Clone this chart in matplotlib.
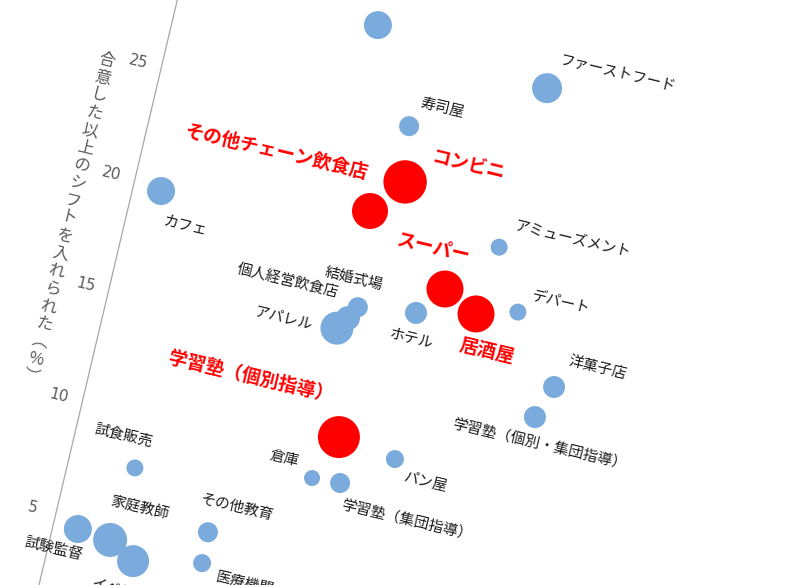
import matplotlib
matplotlib.use("Agg")
import matplotlib.pyplot as plt
import matplotlib.transforms as mtrans

plt.rcParams['font.family'] = ['Noto Sans CJK JP', 'DejaVu Sans']

# ---------------- data ----------------
names = ["", "ファーストフード", "寿司屋", "コンビニ", "その他チェーン飲食店", "カフェ",
         "アミューズメント", "スーパー", "居酒屋", "デパート", "ホテル", "結婚式場",
         "個人経営飲食店", "アパレル", "学習塾（個別指導）", "倉庫", "学習塾（集団指導）",
         "パン屋", "洋菓子店", "学習塾（個別・集団指導）", "試食販売", "試験監督",
         "家庭教師", "イベント", "その他教育", "医療機関"]
x_vals = [8.78, 16.60, 11.12, 11.51, 10.31, 1.23, 16.16, 14.28, 15.85, 17.61, 13.29,
          10.76, 10.45, 10.08, 11.26, 10.53, 11.77, 13.86, 19.90, 19.39, 2.90, 1.09,
          2.57, 3.76, 6.65, 6.71]
y_vals = [28.98, 28.00, 25.00, 22.59, 21.00, 19.75, 20.76, 18.44, 17.69, 18.19, 17.13,
          16.79, 16.23, 15.69, 11.08, 9.07, 9.14, 10.71, 15.37, 13.90, 7.72, 4.55,
          4.41, 3.74, 5.72, 4.35]
bubble = [196, 225, 100, 470, 324, 196, 72, 342, 342, 72, 121, 100, 144, 272, 441,
          64, 100, 81, 121, 121, 72, 196, 289, 256, 100, 81]
highlight = ["コンビニ", "その他チェーン飲食店", "スーパー", "居酒屋", "学習塾（個別指導）"]
y_ticks = [5, 10, 15, 20, 25]
y_label = "合意した以上のシフトを入れられた︵%︶"

# label offsets (px, in the chart's own tilted frame)
label_off = [(0, 30), (66, 31), (28, 25), (58, 31), (-105, 36), (31, -28),
             (69, 24), (-21, 38), (19, -34), (40, 19), (2, -26), (-11, 27),
             (-67, 21), (-55, -3), (-99, 38), (-32, 12), (73, -22),
             (34, -15), (38, 29), (11, -26), (-18, 29), (-19, -25),
             (21, 37), (-5, -31), (22, 31), (46, -11)]

# ---------------- layout ----------------
THETA = 13.3          # chart is tilted clockwise
PX = 22.9             # pixels per data unit
W, H = 810, 585

fig = plt.figure(figsize=(W / 100, H / 100), dpi=100)
ax = fig.add_axes([0, 0, 1, 1])
ax.set_xlim(0, W / PX)
ax.set_ylim(0, H / PX)
ax.axis('off')

rot = mtrans.Affine2D().rotate_deg(-THETA).translate(29.6, -39.7)
T = ax.transData + rot


def off(dx, dy):
    return ax.transData + mtrans.Affine2D().translate(dx, dy) + rot


# axis line
ax.plot([0, 0], [0, 33], transform=T, color='#a6a6a6', lw=0.9, clip_on=False)

# tick labels
for t in y_ticks:
    ax.text(0, t, str(t), transform=off(-24, 0), rotation=-THETA,
            rotation_mode='anchor', ha='center', va='center',
            fontsize=11, color='#595959', family=['DejaVu Sans'])

# y label (vertical writing)
ax.text(0, 17.65, "\n".join(y_label), transform=off(-55, 0), rotation=-THETA,
        rotation_mode='anchor', ha='center', va='center', multialignment='center',
        fontsize=11.8, color='#595959', linespacing=1.08)

# bubbles
colors = ['#ff0000' if n in highlight else '#7aabdc' for n in names]
sizes = [b * 2.0736 for b in bubble]
order_blue = [i for i, n in enumerate(names) if n not in highlight]
order_red = [i for i, n in enumerate(names) if n in highlight]
for idx, z in ((order_blue, 2), (order_red, 3)):
    ax.scatter([x_vals[i] for i in idx], [y_vals[i] for i in idx],
               s=[sizes[i] for i in idx], c=[colors[i] for i in idx],
               linewidths=0, transform=T, clip_on=False, zorder=z)

# labels
for n, xv, yv, (dx, dy) in zip(names, x_vals, y_vals, label_off):
    if not n:
        continue
    red = n in highlight
    ax.text(xv, yv, n, transform=off(dx, dy), rotation=-THETA,
            rotation_mode='anchor', ha='center', va='center',
            fontsize=13.5 if red else 10.7,
            fontweight='bold' if red else 'normal',
            color='#ff0000' if red else '#1a1a1a', zorder=4)

fig.savefig('out.png', dpi=100)
